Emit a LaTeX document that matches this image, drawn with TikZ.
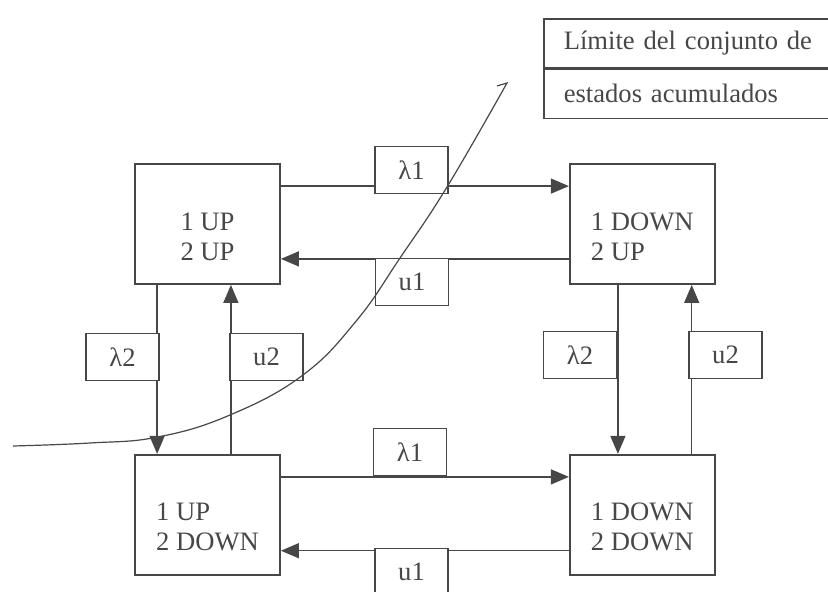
\documentclass[tikz,border=0pt]{standalone}
\usepackage{fontspec}
\setmainfont{Liberation Serif}
\usetikzlibrary{positioning,arrows.meta}

\begin{document}
\begin{tikzpicture}[x=0.5pt,y=-0.5pt,color=black!72,line width=0.7pt,
  state/.style={draw,line width=0.9pt,minimum width=72.5pt,minimum height=60pt,inner sep=0pt},
  statetxt/.style={align=left,inner sep=0pt,font=\fontsize{13.3}{15}\selectfont},
  rate/.style={draw,fill=white,line width=0.8pt,minimum width=36.5pt,minimum height=23.5pt,inner sep=0pt,font=\fontsize{13.3}{15}\selectfont},
  legrow/.style={draw,line width=0.8pt,anchor=north west,text width=140pt,inner xsep=10pt,inner ysep=0pt,minimum height=24.5pt,align=left,font=\fontsize{13.3}{15}\selectfont},
  arr/.style={-{Triangle[length=9pt,width=7.5pt]}},
  limit/.style={line width=0.6pt}]
 \useasboundingbox (0,0) rectangle (828,592);
 \clip (0,0) rectangle (828,592);
 % states
 \node[state] (s11) at (207.5,224) {};
 \node[state,right=144pt of s11] (s21) {};
 \node[state,below=84.5pt of s11] (s12) {};
 \node[state,right=144pt of s12] (s22) {};
 \node[statetxt] at ([yshift=-6.25pt]s11.center) {1 UP\\2 UP};
 \node[statetxt] at ([yshift=-6.25pt]s21.center) {1 DOWN\\2 UP};
 \node[statetxt] at ([yshift=-6.25pt]s12.center) {1 UP\\2 DOWN};
 \node[statetxt] at ([yshift=-6.25pt]s22.center) {1 DOWN\\2 DOWN};
 %
 \coordinate (a1) at ([yshift=-11.5pt]s11.north east);
 \coordinate (b1) at ([yshift=13pt]s11.south east);
 \coordinate (a2) at ([yshift=-11.5pt]s12.north east);
 \coordinate (b2) at ([yshift=12.5pt]s12.south east);
 \coordinate (c1) at ([xshift=11.5pt]s11.south west);
 \coordinate (d1) at ([xshift=-25pt]s11.south east);
 \coordinate (c2) at ([xshift=24.5pt]s21.south west);
 \coordinate (d2) at ([xshift=-12pt]s21.south east);
 \draw[arr] (a1) -- (a1 -| s21.west);
 \draw[arr] (b1 -| s21.west) -- (b1);
 \draw[arr] (a2) -- (a2 -| s22.west);
 \draw[arr] (b2 -| s22.west) -- (b2);
 \draw[arr] (c1) -- (c1 |- s12.north);
 \draw[arr] (d1 |- s12.north) -- (d1);
 \draw[arr] (c2) -- (c2 |- s22.north);
 \draw[arr] (d2 |- s22.north) -- (d2);
 % rates
 \node[rate] (l1a) at (411.5,170) {λ1};
 \node[rate] (u1a) at (412,282) {u1};
 \node[rate] (l2a) at (122.5,357) {λ2};
 \node[rate] (u2a) at (266.5,357) {u2};
 \node[rate] (l2b) at (580,355) {λ2};
 \node[rate] (u2b) at (725.5,355) {u2};
 \node[rate] (l1b) at (410,452) {λ1};
 \node[rate] (u1b) at (411.5,572) {u1};
 % boundary of the accumulated states
 \draw[limit] plot[smooth,tension=0.7] coordinates {(13,446) (90,443) (158,437) (230,415) (303,375) (357,320) (400,258) (447,187) (507,83)} -- (497,86);
 % legend
 \node[legrow] (leg1) at (543,18) {Límite del conjunto de};
 \node[legrow,below=0pt of leg1] (leg2) {estados acumulados};
\end{tikzpicture}
\end{document}
